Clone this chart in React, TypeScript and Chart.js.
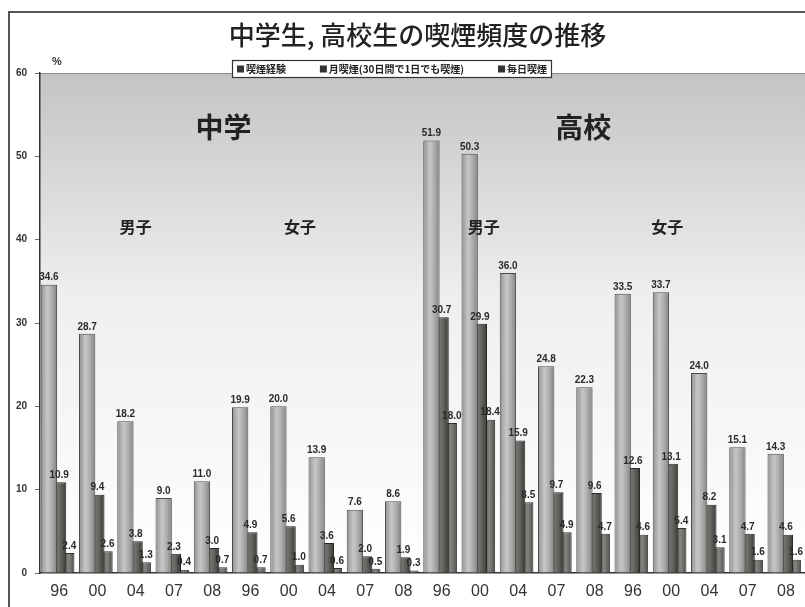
import React, { useEffect, useRef } from "react";
import { Chart, registerables } from "chart.js";
Chart.register(...registerables);

const chartTitle = "中学生, 高校生の喫煙頻度の推移";
const years = ["96", "00", "04", "07", "08"];
const categories = [...years, ...years, ...years, ...years];
const seriesLabels = ["喫煙経験", "月喫煙(30日間で1日でも喫煙)", "毎日喫煙"];

const experience = [34.6, 28.7, 18.2, 9.0, 11.0, 19.9, 20.0, 13.9, 7.6, 8.6, 51.9, 50.3, 36.0, 24.8, 22.3, 33.5, 33.7, 24.0, 15.1, 14.3];
const monthly = [10.9, 9.4, 3.8, 2.3, 3.0, 4.9, 5.6, 3.6, 2.0, 1.9, 30.7, 29.9, 15.9, 9.7, 9.6, 12.6, 13.1, 8.2, 4.7, 4.6];
const daily = [2.4, 2.6, 1.3, 0.4, 0.7, 0.7, 1.0, 0.6, 0.5, 0.3, 18.0, 18.4, 8.5, 4.9, 4.7, 4.6, 5.4, 3.1, 1.6, 1.6];

const yTicks = [0, 10, 20, 30, 40, 50, 60];

// annotation texts, anchored at category index positions
const schoolLabels = ["中学", "高校"];
const schoolAt = [4.3, 13.7];
const sexLabels = ["男子", "女子", "男子", "女子"];
const sexAt = [2.0, 6.3, 11.1, 15.9];

const fillColors = ["#b8b8b8", "#4c5148", "#63675f"];
const edgeColors = ["#4a4a4a", "#262824", "#30322e"];
const barWidthFactor = [1.6, 1.4, 1.0];

const JP = '"Noto Sans CJK JP", "Noto Sans", sans-serif';
const LAT = '"Liberation Sans", Arial, sans-serif';

export default function App() {
  const ref = useRef<HTMLCanvasElement>(null);

  useEffect(() => {
    document.body.style.margin = "0";
    const canvas = ref.current!;

    const bgPlugin = {
      id: "bgPlugin",
      beforeDraw(chart: any) {
        const { ctx, chartArea: a, width, height } = chart;
        ctx.save();
        ctx.fillStyle = "#ffffff";
        ctx.fillRect(0, 0, width, height);
        const g = ctx.createLinearGradient(0, a.top, 0, a.bottom);
        g.addColorStop(0, "#c4c4c4");
        g.addColorStop(0.45, "#efefef");
        g.addColorStop(1, "#ffffff");
        ctx.fillStyle = g;
        ctx.fillRect(a.left, a.top, a.right - a.left, a.bottom - a.top);
        ctx.strokeStyle = "#8a8a8a";
        ctx.lineWidth = 1;
        ctx.beginPath();
        ctx.moveTo(a.left, a.top + 0.5);
        ctx.lineTo(a.right, a.top + 0.5);
        ctx.stroke();
        // outer frame
        ctx.strokeStyle = "#555";
        ctx.lineWidth = 2;
        ctx.beginPath();
        ctx.moveTo(9, height);
        ctx.lineTo(9, 12);
        ctx.lineTo(width, 12);
        ctx.stroke();
        // title
        ctx.fillStyle = "#222";
        ctx.font = `500 26px ${JP}`;
        ctx.textAlign = "center";
        ctx.textBaseline = "middle";
        ctx.fillText(chartTitle, (a.left + a.right) / 2 - 5, 35);
        // percent sign
        ctx.font = `bold 11px ${LAT}`;
        ctx.fillStyle = "#333";
        ctx.fillText("%", 57, 62);
        ctx.restore();
      },
    };

    const overlayPlugin = {
      id: "overlayPlugin",
      afterDatasetsDraw(chart: any) {
        const { ctx } = chart;
        const xs = chart.scales.x;
        ctx.save();
        // value labels
        ctx.fillStyle = "#2a2a2a";
        ctx.font = `bold 10px ${LAT}`;
        ctx.textAlign = "center";
        ctx.textBaseline = "bottom";
        chart.data.datasets.forEach((ds: any, di: number) => {
          const meta = chart.getDatasetMeta(di);
          meta.data.forEach((el: any, i: number) => {
            ctx.fillText(Number(ds.data[i]).toFixed(1), el.x, el.y - 2);
          });
        });
        // group annotations
        ctx.textBaseline = "middle";
        ctx.fillStyle = "#222";
        ctx.font = `bold 28px ${JP}`;
        schoolLabels.forEach((t, i) => ctx.fillText(t, xs.getPixelForValue(schoolAt[i]), 127));
        ctx.font = `bold 16px ${JP}`;
        sexLabels.forEach((t, i) => ctx.fillText(t, xs.getPixelForValue(sexAt[i]), 227));
        ctx.restore();
      },
      afterDatasetDraw(chart: any, args: any) {
        // cylinder shading for each bar right after its dataset is drawn
        const { ctx } = chart;
        ctx.save();
        args.meta.data.forEach((el: any) => {
          const w = el.width;
          const l = el.x - w / 2;
          const g = ctx.createLinearGradient(l, 0, l + w, 0);
          g.addColorStop(0, "rgba(0,0,0,0.22)");
          g.addColorStop(0.4, "rgba(255,255,255,0.2)");
          g.addColorStop(1, "rgba(0,0,0,0.3)");
          ctx.fillStyle = g;
          ctx.fillRect(l + 1, el.y + 1, w - 2, el.base - el.y - 1);
        });
        ctx.restore();
      },
      afterDraw(chart: any) {
        const { ctx } = chart;
        ctx.save();
        const boxL = 232, boxT = 60, boxR = 552, boxB = 78;
        ctx.fillStyle = "#ffffff";
        ctx.fillRect(boxL, boxT, boxR - boxL, boxB - boxT);
        ctx.strokeStyle = "#333";
        ctx.lineWidth = 1.2;
        ctx.strokeRect(boxL + 0.5, boxT + 0.5, boxR - boxL - 1, boxB - boxT - 1);
        ctx.font = `bold 10px ${JP}`;
        ctx.textBaseline = "middle";
        ctx.textAlign = "left";
        const cy = (boxT + boxB) / 2;
        const sq = 7;
        const widths = seriesLabels.map((t) => ctx.measureText(t).width + sq + 2);
        const total = widths.reduce((s, w) => s + w, 0);
        const gap = (boxR - boxL - 10 - total) / (seriesLabels.length - 1);
        let x = boxL + 5;
        seriesLabels.forEach((t, i) => {
          ctx.fillStyle = "#333";
          ctx.fillRect(x, cy - sq / 2, sq, sq);
          ctx.fillStyle = "#222";
          ctx.fillText(t, x + sq + 2, cy + 0.5);
          x += widths[i] + gap;
        });
        ctx.restore();
      },
    };

    const chart = new Chart(canvas, {
      type: "bar",
      data: {
        labels: categories,
        datasets: [experience, monthly, daily].map((d, i) => ({
          label: seriesLabels[i],
          data: d,
          backgroundColor: fillColors[i],
          borderColor: edgeColors[i],
          borderWidth: 1,
          categoryPercentage: 0.8,
          barPercentage: barWidthFactor[i],
        })),
      },
      options: {
        animation: false,
        responsive: false,
        layout: { padding: { top: 73, left: 0, right: 0, bottom: 4 } },
        plugins: {
          legend: { display: false },
          title: { display: false },
          tooltip: { enabled: false },
        },
        scales: {
          x: {
            grid: { display: false, drawTicks: false },
            border: { display: true, color: "#333", width: 1.5 },
            ticks: {
              color: "#333",
              font: { size: 16, family: LAT },
              padding: 9,
              maxRotation: 0,
              autoSkip: false,
            },
            afterFit(s: any) {
              s.height = 30;
            },
          },
          y: {
            min: 0,
            max: 60,
            afterBuildTicks(s: any) {
              s.ticks = yTicks.map((v) => ({ value: v }));
            },
            grid: { drawOnChartArea: false, tickLength: 5, color: "#666" },
            border: { display: true, color: "#333", width: 1.5 },
            ticks: {
              color: "#333",
              font: { size: 10, weight: "bold", family: LAT },
              padding: 8,
            },
            afterFit(s: any) {
              s.width = 40;
            },
          },
        },
      },
      plugins: [bgPlugin, overlayPlugin],
    } as any);

    return () => chart.destroy();
  }, []);

  return (
    <div style={{ width: 805, height: 607, position: "relative" }}>
      <canvas ref={ref} width={805} height={607} style={{ display: "block" }} />
    </div>
  );
}
